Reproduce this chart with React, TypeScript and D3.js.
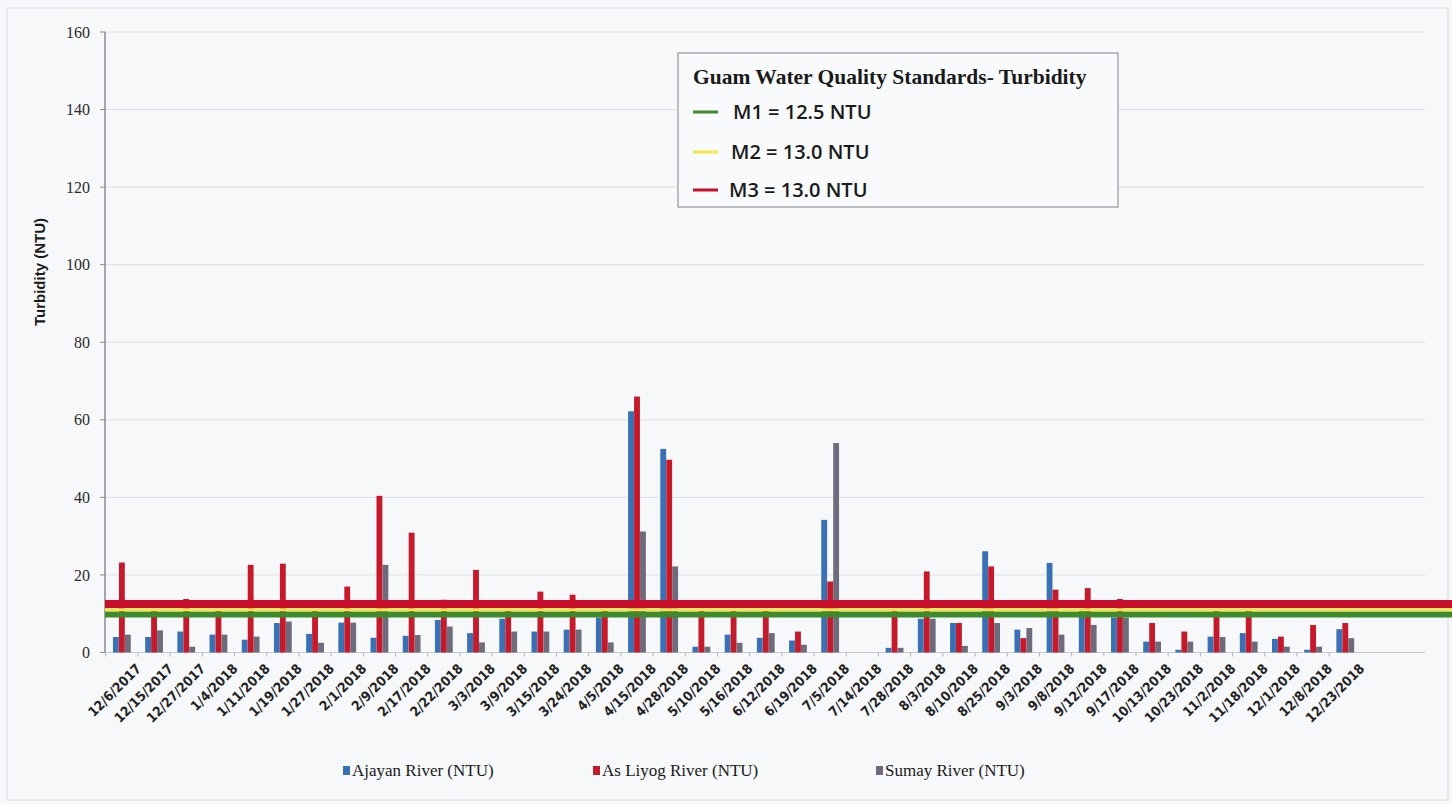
import React from "react";
import * as d3 from "d3";

const dates = [
  "12/6/2017", "12/15/2017", "12/27/2017", "1/4/2018", "1/11/2018", "1/19/2018", "1/27/2018",
  "2/1/2018", "2/9/2018", "2/17/2018", "2/22/2018", "3/3/2018", "3/9/2018", "3/15/2018",
  "3/24/2018", "4/5/2018", "4/15/2018", "4/28/2018", "5/10/2018", "5/16/2018", "6/12/2018",
  "6/19/2018", "7/5/2018", "7/14/2018", "7/28/2018", "8/3/2018", "8/10/2018", "8/25/2018",
  "9/3/2018", "9/8/2018", "9/12/2018", "9/17/2018", "10/13/2018", "10/23/2018", "11/2/2018",
  "11/18/2018", "12/1/2018", "12/8/2018", "12/23/2018",
];

const ajayan = [4, 4, 5.4, 4.6, 3.3, 7.6, 4.8, 7.7, 3.8, 4.3, 8.4, 5, 8.7, 5.4, 5.9, 9, 62.2, 52.5, 1.5, 4.6, 3.8, 3.1, 34.2, 0, 1.2, 8.7, 7.6, 26.1, 5.9, 23.1, 11, 9, 2.8, 0.7, 4.1, 5, 3.5, 0.7, 6];
const asLiyog = [23.2, 11, 13.8, 11, 22.6, 22.9, 11, 17, 40.4, 30.9, 13.6, 21.3, 11, 15.7, 14.9, 11, 66, 49.7, 11, 11, 11, 5.4, 18.3, 0, 11, 20.9, 7.6, 22.2, 3.7, 16.2, 16.6, 13.8, 7.6, 5.4, 11, 11, 4.1, 7.1, 7.6];
const sumay = [4.6, 5.7, 1.5, 4.6, 4.1, 8, 2.5, 7.7, 22.6, 4.5, 6.7, 2.6, 5.4, 5.4, 5.9, 2.6, 31.2, 22.2, 1.5, 2.5, 5, 2, 54, 0, 1.2, 8.7, 1.7, 7.6, 6.3, 4.6, 7.1, 9, 2.8, 2.8, 4, 2.8, 1.5, 1.5, 3.7];

const seriesNames = ["Ajayan River (NTU)", "As Liyog River (NTU)", "Sumay River (NTU)"];
const seriesColors = ["#3a70b4", "#c41a2c", "#6e6c7c"];

const yTicks = [0, 20, 40, 60, 80, 100, 120, 140, 160];

// Standards as drawn in the picture (label, drawn level, colour, thickness)
const standardLabels = ["M1 = 12.5 NTU", "M2 = 13.0 NTU", "M3 = 13.0 NTU"];
const standardLevels = [9.8, 11.0, 12.5];
const standardColors = ["#3e8a2c", "#f2e64a", "#c8102e"];
const standardWidths = [6, 3, 8];

export default function App() {
  const W = 1452, H = 804;
  const left = 105, right = 1425, top = 32, bottom = 652.5;

  const x = d3.scaleBand<string>().domain(dates).range([left, right])
    .paddingInner(0.44).paddingOuter(1.22).align(0.1);
  const xs = d3.scaleBand<number>().domain([0, 1, 2]).range([0, x.bandwidth()]).padding(0.02);
  const y = d3.scaleLinear().domain([0, 160]).range([bottom, top]);
  const series = [ajayan, asLiyog, sumay];
  const step = x.step();

  const drawOrder = [0, 2, 1];

  return (
    <div style={{ position: "absolute", left: 0, top: 0 }}>
      <svg width={W} height={H} style={{ display: "block", background: "#f5f7f9" }}>
        <rect x={7} y={8} width={1441} height={792} fill="#f6f8fa" stroke="#d6dadf" strokeWidth={1} />
        {/* gridlines */}
        {yTicks.map((t) => (
          <line key={"g" + t} x1={left} x2={right} y1={y(t)} y2={y(t)} stroke="#dcdfe3" strokeWidth={1} />
        ))}
        {/* y axis */}
        <line x1={left} x2={left} y1={y(160)} y2={y(0)} stroke="#8a8d92" strokeWidth={1.5} />
        {yTicks.map((t) => (
          <g key={"yt" + t}>
            <line x1={left - 5} x2={left} y1={y(t)} y2={y(t)} stroke="#8a8d92" strokeWidth={1} />
            <text x={90} y={y(t)} dy="0.35em" textAnchor="end" fontFamily="'Liberation Serif', serif" fontSize={16} fill="#2a2a2a">
              {t}
            </text>
          </g>
        ))}
        <text transform={`translate(45,272) rotate(-90)`} textAnchor="middle" fontFamily="'Liberation Sans', Arial, sans-serif" fontWeight="bold" fontSize={15} fill="#1a1a1a">
          Turbidity (NTU)
        </text>
        {/* x axis */}
        <line x1={left} x2={right} y1={y(0)} y2={y(0)} stroke="#c6c9ce" strokeWidth={1} />
        {dates.map((d) => {
          const bx = (x(d) as number) - (step - x.bandwidth()) / 2;
          return <line key={"xt" + d} x1={bx} x2={bx} y1={y(0)} y2={y(0) + 4} stroke="#b0b3b8" strokeWidth={1} />;
        })}
        {/* bars */}
        {dates.map((d, i) => (
          <g key={"b" + d}>
            {drawOrder.map((s) => {
              const v = series[s][i];
              const bx = (x(d) as number) + (xs(s) as number);
              return (
                <rect key={s} x={bx} y={y(v)} width={xs.bandwidth()} height={y(0) - y(v)} fill={seriesColors[s]} />
              );
            })}
          </g>
        ))}
        {/* standards lines */}
        {standardLevels.map((lv, i) => (
          <line key={"s" + i} x1={left} x2={W} y1={y(lv)} y2={y(lv)} stroke={standardColors[i]} strokeWidth={standardWidths[i]} />
        ))}
        {/* x labels */}
        {dates.map((d) => {
          const cx = (x(d) as number) + x.bandwidth() / 2 + 20;
          return (
            <text key={"xl" + d} transform={`translate(${cx},${y(0) + 17}) rotate(-45)`} textAnchor="end"
              fontFamily="'Liberation Sans Narrow', 'DejaVu Sans Condensed', sans-serif" fontWeight="bold" fontSize={13.5} fill="#222">
              {d}
            </text>
          );
        })}
        {/* standards legend box */}
        <rect x={678} y={53} width={440} height={154} fill="#f9fafb" stroke="#7d8085" strokeWidth={1} />
        <text x={693} y={84} fontFamily="'Liberation Serif', serif" fontWeight="bold" fontSize={21.5} fill="#1a1a1a">
          Guam Water Quality Standards- Turbidity
        </text>
        {standardLabels.map((lab, i) => {
          const ly = [112, 152, 190][i];
          return (
            <g key={"sl" + i}>
              <line x1={693} x2={718} y1={ly} y2={ly} stroke={standardColors[i]} strokeWidth={3} />
              <text x={[733, 731, 729][i]} y={ly} dy="0.35em" fontFamily="'Open Sans', 'Noto Sans', sans-serif" fontWeight={600} fontSize={20} fill="#1a1a1a">
                {lab}
              </text>
            </g>
          );
        })}
        {/* series legend */}
        {seriesNames.map((n, i) => {
          const lx = [343, 593, 876][i];
          return (
            <g key={"leg" + i}>
              <rect x={lx} y={766} width={7} height={9} fill={seriesColors[i]} />
              <text x={lx + 9} y={776} fontFamily="'Liberation Serif', serif" fontSize={17} fill="#1a1a1a">
                {n}
              </text>
            </g>
          );
        })}
      </svg>
    </div>
  );
}
